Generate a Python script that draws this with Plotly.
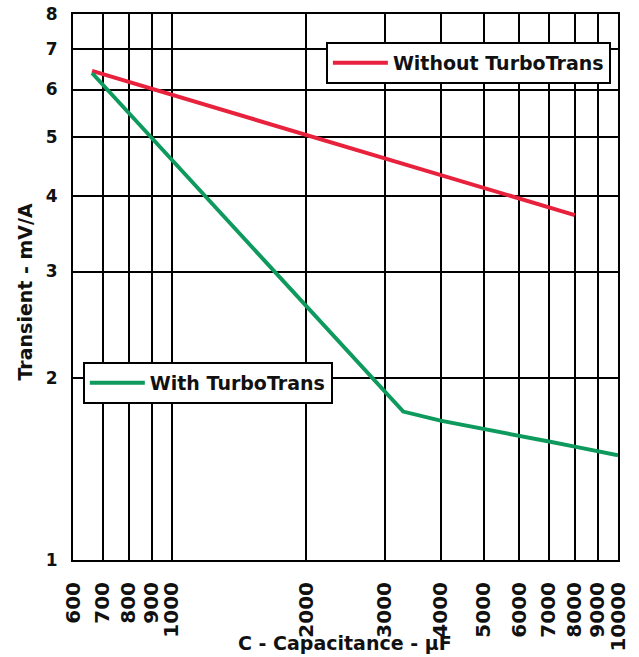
import math
import plotly.graph_objects as go

# Data
cap_without = [662, 8000]
trans_without = [6.44, 3.72]
cap_with = [662, 3300, 4000, 5000, 6000, 7000, 8000, 10000]
trans_with = [6.39, 1.76, 1.70, 1.645, 1.60, 1.57, 1.54, 1.49]

x_ticks = [600, 700, 800, 900, 1000, 2000, 3000, 4000, 5000, 6000, 7000, 8000, 9000, 10000]
x_ticktext = [str(v) for v in x_ticks]
y_ticks = [1, 2, 3, 4, 5, 6, 7, 8]

FONT = "DejaVu Sans"
RED = "#e8213c"
GREEN = "#0d9a5c"

fig = go.Figure()
fig.add_trace(go.Scatter(
    x=cap_without, y=trans_without, mode="lines", name="Without TurboTrans",
    line=dict(color=RED, width=4), legend="legend"))
fig.add_trace(go.Scatter(
    x=cap_with, y=trans_with, mode="lines", name="With TurboTrans",
    line=dict(color=GREEN, width=4), legend="legend2"))

fig.update_xaxes(
    type="log", range=[math.log10(600), math.log10(10000)],
    tickvals=x_ticks, ticktext=x_ticktext, tickangle=-90,
    tickfont=dict(family=FONT, size=20, color="#111", weight="bold"),
    ticks="", ticklabelstandoff=12, automargin=False, ticklabeloverflow="allow",
    showgrid=True, gridcolor="black", gridwidth=1.6,
    showline=True, linecolor="black", linewidth=2, mirror=True,
    zeroline=False)
fig.update_yaxes(
    type="log", range=[0, math.log10(8)],
    tickvals=y_ticks, ticktext=[str(v) for v in y_ticks],
    tickfont=dict(family=FONT, size=17, color="#111", weight="bold"),
    ticks="", ticklabelstandoff=10, automargin=False, ticklabeloverflow="allow",
    showgrid=True, gridcolor="black", gridwidth=1.6,
    showline=True, linecolor="black", linewidth=2, mirror=True,
    zeroline=False)

legend_style = dict(
    bgcolor="white", bordercolor="black", borderwidth=2,
    font=dict(family=FONT, size=19, color="#111", weight="bold"),
    itemwidth=55, xanchor="left", yanchor="top")

fig.update_layout(
    width=639, height=657,
    margin=dict(l=73, r=21, t=14, b=97, autoexpand=False),
    paper_bgcolor="white", plot_bgcolor="white",
    showlegend=True,
    legend=dict(x=0.464, y=0.949, **legend_style),
    legend2=dict(x=0.018, y=0.363, **legend_style),
    annotations=[
        dict(text="C - Capacitance - µF", xref="paper", yref="paper",
             x=0.499, y=-0.152, xanchor="center", yanchor="middle", showarrow=False,
             font=dict(family=FONT, size=19, color="#111", weight="bold")),
        dict(text="Transient - mV/A", xref="paper", yref="paper",
             x=-0.088, y=0.49, xanchor="center", yanchor="middle", showarrow=False,
             textangle=-90,
             font=dict(family=FONT, size=19, color="#111", weight="bold")),
    ],
)

fig.write_html("out.html",
               config={"displayModeBar": False},
               post_script="document.body.style.margin='0';document.body.style.overflow='hidden';")
